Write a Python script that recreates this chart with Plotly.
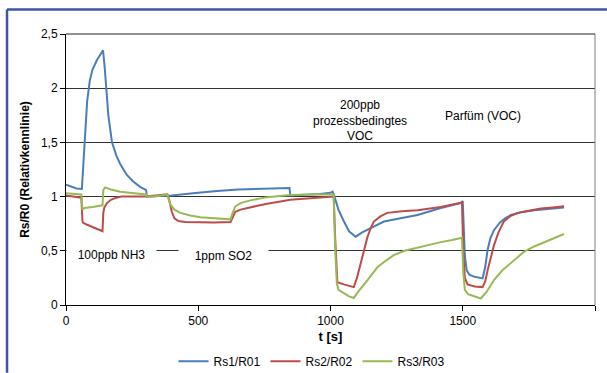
import plotly.graph_objects as go

# ---- data ----
t_rs1 = [0, 20, 40, 60, 63, 66, 72, 80, 90, 100, 117, 130, 140, 146, 152, 160, 174, 190, 205, 230, 254, 280, 303,
         306, 350, 400, 480, 560, 650, 750, 845, 848, 900, 960, 1000, 1008, 1015, 1030, 1049, 1070, 1095, 1120, 1152,
         1202, 1265, 1329, 1417, 1492, 1500, 1503, 1508, 1515, 1525, 1545, 1575, 1585, 1594, 1605, 1618, 1640, 1660,
         1682, 1720, 1770, 1830, 1883]
rs1 = [1.11, 1.09, 1.075, 1.07, 1.2, 1.35, 1.6, 1.88, 2.07, 2.17, 2.26, 2.31, 2.35, 2.2, 2.0, 1.75, 1.5, 1.38, 1.3,
       1.2, 1.14, 1.09, 1.06,
       1.0, 1.005, 1.01, 1.03, 1.05, 1.065, 1.075, 1.08, 1.01, 1.015, 1.025, 1.035, 1.045, 1.0, 0.88, 0.78, 0.68,
       0.63, 0.67, 0.71,
       0.77, 0.80, 0.83, 0.895, 0.94, 0.96, 0.7, 0.45, 0.32, 0.28, 0.26, 0.245, 0.35, 0.51, 0.62, 0.69, 0.76, 0.80,
       0.83, 0.855, 0.875, 0.89, 0.90]

t_rs2 = [0, 30, 58, 62, 64, 80, 100, 120, 138, 141, 145, 155, 170, 190, 210, 300, 350, 383, 390, 400, 410, 425, 450,
         500, 560, 622, 628, 640, 660, 697, 760, 822, 848, 924, 1000, 1012, 1018, 1022, 1026, 1050, 1088, 1100, 1114,
         1127, 1140, 1152, 1164, 1190, 1215, 1270, 1329, 1417, 1492, 1497, 1502, 1508, 1518, 1545, 1575, 1585, 1594,
         1605, 1618, 1635, 1655, 1680, 1708, 1750, 1795, 1840, 1883]
rs2 = [1.01, 1.0, 0.99, 0.78, 0.76, 0.74, 0.72, 0.70, 0.68, 0.85, 0.9, 0.94, 0.97, 0.99, 1.0, 1.0, 1.01, 1.02, 0.97,
       0.86, 0.8, 0.775, 0.765,
       0.76, 0.76, 0.765, 0.8, 0.86, 0.88, 0.90, 0.935, 0.96, 0.97, 0.985, 1.0, 1.0, 0.6, 0.3, 0.21, 0.19, 0.165,
       0.25, 0.39,
       0.52, 0.63, 0.71, 0.77, 0.82, 0.85, 0.865, 0.875, 0.905, 0.94, 0.945, 0.5, 0.25, 0.19, 0.17, 0.165, 0.22, 0.32,
       0.43, 0.55, 0.67, 0.77, 0.82, 0.85, 0.87, 0.89, 0.90, 0.91]

t_rs3 = [0, 30, 58, 62, 70, 100, 120, 138, 141, 148, 170, 205, 240, 280, 303, 306, 330, 360, 383, 394, 410, 432, 470,
         508, 583, 622, 630, 640, 660, 697, 760, 848, 920, 1000, 1012, 1018, 1024, 1030, 1050, 1070, 1088, 1110, 1140,
         1178, 1210, 1239, 1280, 1329, 1370, 1417, 1460, 1492, 1497, 1502, 1508, 1520, 1545, 1568, 1590, 1618, 1650,
         1682, 1731, 1770, 1807, 1850, 1883]
rs3 = [1.03, 1.025, 1.02, 0.88, 0.895, 0.905, 0.91, 0.92, 1.06, 1.085, 1.065, 1.045, 1.035, 1.025, 1.02, 1.0, 1.0,
       1.01, 1.02, 0.93, 0.88, 0.85, 0.825,
       0.81, 0.80, 0.79, 0.85, 0.91, 0.94, 0.965, 0.995, 1.015, 1.02, 1.02, 1.02, 0.5, 0.2, 0.14, 0.11, 0.08, 0.065,
       0.14, 0.23,
       0.35, 0.41, 0.46, 0.5, 0.53, 0.555, 0.58, 0.60, 0.62, 0.62, 0.3, 0.14, 0.1, 0.08, 0.06, 0.12, 0.23, 0.32,
       0.39, 0.49, 0.54, 0.58, 0.62, 0.655]

series_names = ["Rs1/R01", "Rs2/R02", "Rs3/R03"]
series_colors = ["#4A7EBB", "#BE4B48", "#98B954"]

x_ticks = [0, 500, 1000, 1500, 2000]
y_ticks = [0, 0.5, 1, 1.5, 2, 2.5]
y_tick_labels = ["0", "0,5", "1", "1,5", "2", "2,5"]

FONT = "Liberation Sans, Arial, sans-serif"

fig = go.Figure()
for tx, ty, name, col in zip([t_rs1, t_rs2, t_rs3], [rs1, rs2, rs3], series_names, series_colors):
    fig.add_trace(go.Scatter(x=tx, y=ty, mode="lines", name=name,
                             line=dict(color=col, width=2)))

annotations = [
    dict(x=172, y=0.46, text="100ppb NH3", width=87),
    dict(x=594, y=0.45, text="1ppm SO2", width=87),
    dict(x=1111, y=1.706, text="200ppb<br>prozessbedingtes<br>VOC"),
    dict(x=1576, y=1.744, text="Parfüm (VOC)"),
]
ann_list = []
for a in annotations:
    d = dict(xref="x", yref="y", showarrow=False, font=dict(family=FONT, size=12, color="#000"),
             xanchor="center", yanchor="middle")
    d.update(a)
    if "width" in a:
        d.update(bgcolor="white", borderpad=1)
    ann_list.append(d)

FRAME = "#3F55A8"
fig.update_layout(
    width=607, height=373,
    margin=dict(l=66, r=12, t=34, b=68, autoexpand=False),
    paper_bgcolor="white", plot_bgcolor="white",
    font=dict(family=FONT, size=12, color="#000"),
    showlegend=True,
    legend=dict(orientation="h", x=0.465, xanchor="center", y=-0.208, yanchor="middle",
                font=dict(family=FONT, size=12), itemwidth=30, tracegroupgap=0),
    annotations=ann_list,
    shapes=[
        # outer chart frame (left and top edges; the rest lies beyond the picture)
        dict(type="line", xref="paper", yref="paper", x0=-0.1115, x1=-0.1115, y0=-0.25, y1=1.0904,
             line=dict(color=FRAME, width=2.5), layer="above"),
        dict(type="line", xref="paper", yref="paper", x0=-0.1115, x1=1.05, y0=1.0904, y1=1.0904,
             line=dict(color=FRAME, width=2.5), layer="above"),
        # plot-area right border
        dict(type="line", xref="paper", yref="paper", x0=1, x1=1, y0=0, y1=1,
             line=dict(color="#808080", width=1)),
        # plot-area top line
        dict(type="line", xref="paper", yref="paper", x0=0, x1=1, y0=1, y1=1,
             line=dict(color="#222", width=1)),
    ],
    xaxis=dict(range=[0, 2000], tickvals=x_ticks, showgrid=False, zeroline=False, automargin=False,
               showline=True, linecolor="#000", linewidth=1, ticks="outside", ticklen=5,
               tickcolor="#000", tickfont=dict(family=FONT, size=12),
               title=dict(text="<b>t [s]</b>", font=dict(family=FONT, size=13), standoff=4)),
    yaxis=dict(range=[0, 2.5], tickvals=y_ticks, ticktext=y_tick_labels, showgrid=True, automargin=False,
               gridcolor="#333", gridwidth=1, zeroline=False,
               showline=True, linecolor="#000", linewidth=1, ticks="outside", ticklen=5,
               tickcolor="#000", tickfont=dict(family=FONT, size=12),
               title=dict(text="<b>Rs/R0 (Relativkennlinie)</b>", font=dict(family=FONT, size=12),
                          standoff=8)),
)

fig.write_html("out.html", config={"displayModeBar": False},
               post_script="document.body.style.margin='0';document.body.style.overflow='hidden';")
